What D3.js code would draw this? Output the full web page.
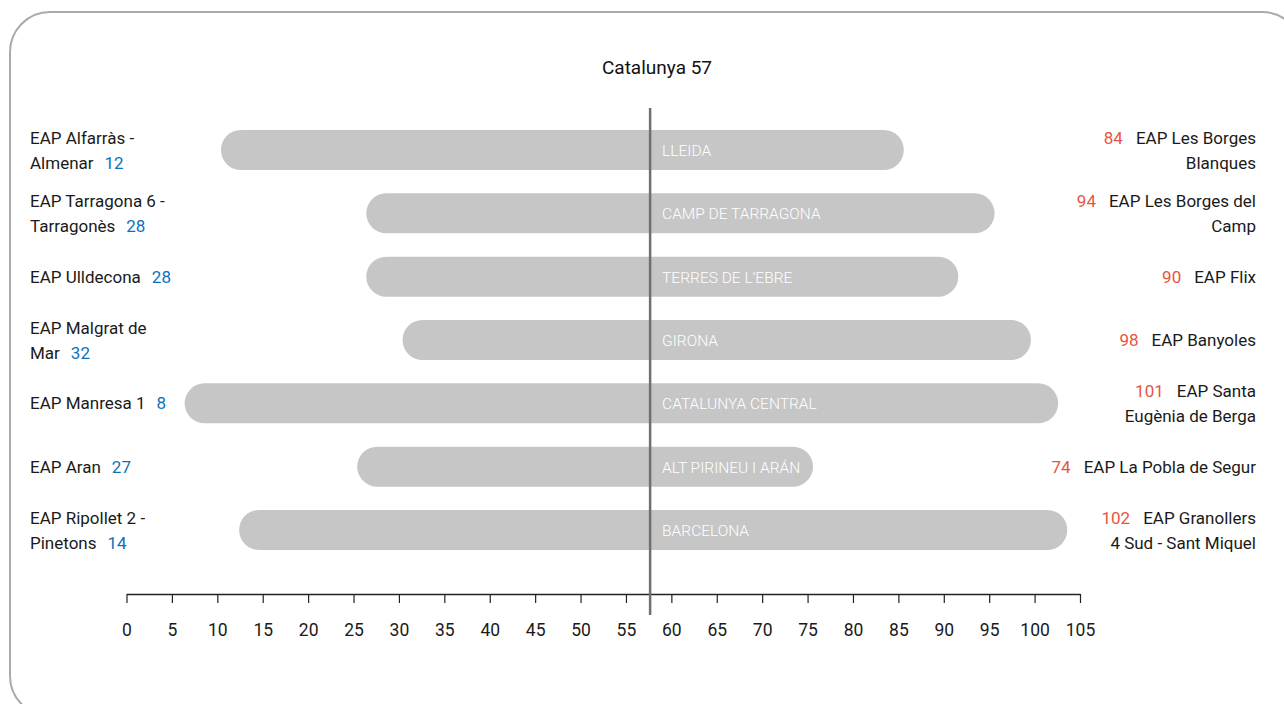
<!DOCTYPE html>
<html>
<head>
<meta charset="utf-8">
<script src="https://cdnjs.cloudflare.com/ajax/libs/d3/7.8.5/d3.min.js"></script>
<style>
  body { margin: 0; background: #fff; }
  svg text { font-family: Roboto, "Noto Sans", sans-serif; font-weight: 400; }
</style>
</head>
<body>
<div id="vis"></div>
<script>
// regions (bars) with the lowest and highest EAP of each one
var regions = ['LLEIDA', 'CAMP DE TARRAGONA', "TERRES DE L\u2019EBRE", 'GIRONA',
  'CATALUNYA CENTRAL', 'ALT PIRINEU I AR\u00c1N', 'BARCELONA'];
var minValues = [12, 28, 28, 32, 8, 27, 14];
var maxValues = [84, 94, 90, 98, 101, 74, 102];
var minNames = [
  ['EAP Alfarr\u00e0s -', 'Almenar'],
  ['EAP Tarragona 6 -', 'Tarragon\u00e8s'],
  ['EAP Ulldecona'],
  ['EAP Malgrat de', 'Mar'],
  ['EAP Manresa 1'],
  ['EAP Aran'],
  ['EAP Ripollet 2 -', 'Pinetons']
];
var maxNames = [
  ['EAP Les Borges', 'Blanques'],
  ['EAP Les Borges del', 'Camp'],
  ['EAP Flix'],
  ['EAP Banyoles'],
  ['EAP Santa', 'Eug\u00e8nia de Berga'],
  ['EAP La Pobla de Segur'],
  ['EAP Granollers', '4 Sud - Sant Miquel']
];
var catalunyaValue = 57;
var tickValues = d3.range(0, 106, 5);

var width = 1284, height = 704;
var lineH = 25, barH = 40, capPad = 14.5;

var svg = d3.select('#vis').append('svg')
  .attr('width', width)
  .attr('height', height);

// frame
svg.append('rect')
  .attr('x', 10).attr('y', 12)
  .attr('width', 1292).attr('height', 704)
  .attr('rx', 40).attr('ry', 40)
  .attr('fill', 'none')
  .attr('stroke', '#aaaaaa')
  .attr('stroke-width', 2);

var x = d3.scaleLinear().domain([0, 105]).range([126.5, 1080]);
var y = d3.scalePoint().domain(regions).range([150, 530]);

var rows = regions.map(function(r, i) {
  return { region: r, min: minValues[i], max: maxValues[i], minName: minNames[i], maxName: maxNames[i] };
});

// title
svg.append('text')
  .attr('x', 657).attr('y', 74)
  .attr('text-anchor', 'middle')
  .attr('font-size', 19)
  .attr('fill', '#111')
  .text('Catalunya ' + catalunyaValue);

// bars (rounded ends stick out a bit past the values, like the original)
svg.selectAll('.bar')
  .data(rows)
  .enter().append('rect')
  .attr('class', 'bar')
  .attr('x', function(d) { return x(d.min) - capPad; })
  .attr('y', function(d) { return y(d.region) - barH / 2; })
  .attr('width', function(d) { return x(d.max) - x(d.min) + 2 * capPad; })
  .attr('height', barH)
  .attr('rx', barH / 2)
  .attr('fill', '#c6c6c6');

// axis
var axis = svg.append('g')
  .attr('transform', 'translate(0,594)')
  .call(d3.axisBottom(x).tickValues(tickValues).tickSize(9).tickSizeOuter(0).tickPadding(21));
axis.select('.domain').attr('stroke', '#222').attr('stroke-width', 1.5);
axis.selectAll('.tick line').attr('stroke', '#222').attr('stroke-width', 1.2);
axis.selectAll('.tick text')
  .attr('font-size', 17.5)
  .attr('fill', '#1a1a1a')
  .attr('font-family', null);

// catalunya line (drawn a touch to the right, as in the picture)
var lineX = x(catalunyaValue) + 6;
svg.append('line')
  .attr('x1', lineX).attr('x2', lineX)
  .attr('y1', 108).attr('y2', 615)
  .attr('stroke', '#707070')
  .attr('stroke-width', 2.5);

// region names inside bars
svg.selectAll('.reg')
  .data(rows)
  .enter().append('text')
  .attr('class', 'reg')
  .attr('x', lineX + 12)
  .attr('y', function(d) { return y(d.region) + 6; })
  .attr('font-size', 15.5)
  .style('font-weight', 300)
  .attr('fill', '#fff')
  .text(function(d) { return d.region; });

// left labels: name + min value in blue
var left = svg.selectAll('.left')
  .data(rows)
  .enter().append('text')
  .attr('class', 'left')
  .attr('font-size', 17)
  .attr('fill', '#1a1a1a');

left.each(function(d) {
  var t = d3.select(this);
  var n = d.minName.length;
  var firstBase = y(d.region) - (n - 1) * lineH / 2 + 6;
  d.minName.forEach(function(line, k) {
    t.append('tspan').attr('x', 30).attr('y', firstBase + k * lineH).text(line);
    if (k === n - 1) {
      t.append('tspan').attr('fill', '#0a72bb').attr('dx', 11).text(d.min);
    }
  });
});

// right labels: max value in red + name, right aligned
var right = svg.selectAll('.right')
  .data(rows)
  .enter().append('text')
  .attr('class', 'right')
  .attr('font-size', 17)
  .attr('text-anchor', 'end')
  .attr('fill', '#1a1a1a');

right.each(function(d) {
  var t = d3.select(this);
  var n = d.maxName.length;
  var firstBase = y(d.region) - (n - 1) * lineH / 2 + 6;
  d.maxName.forEach(function(line, k) {
    if (k === 0) {
      var first = t.append('tspan').attr('x', 1256).attr('y', firstBase);
      first.append('tspan').attr('fill', '#e8543f').text(d.max);
      first.append('tspan').attr('dx', 13).text(line);
    } else {
      t.append('tspan').attr('x', 1256).attr('y', firstBase + k * lineH).text(line);
    }
  });
});
</script>
</body>
</html>
